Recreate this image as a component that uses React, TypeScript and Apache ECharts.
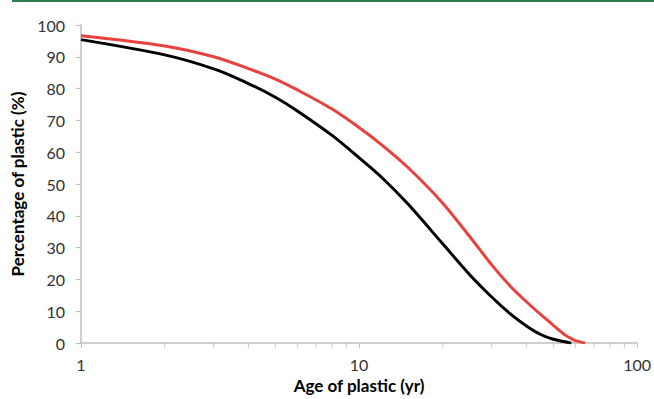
import React, { useEffect, useRef } from "react";
import * as echarts from "echarts";

const ages = [1, 2, 3, 4, 5, 6, 8, 10, 12, 15, 20, 25, 30, 35, 40, 45, 50, 55, 58, 60, 65];
const blackValues = [95.4, 90.6, 86.2, 81.6, 77.3, 73.0, 65.3, 58.3, 52.3, 43.7, 31.2, 21.5, 14.5, 9.2, 5.4, 2.7, 1.2, 0.4, 0.0, null, null];
const redValues = [96.6, 93.4, 90.0, 86.3, 83.0, 79.6, 73.6, 67.8, 62.5, 55.2, 44.0, 33.5, 24.6, 17.9, 13.0, 9.0, 5.6, 2.6, 1.4, 0.8, 0.0];
const minorTickValues = [2, 3, 4, 5, 6, 7, 8, 9, 20, 30, 40, 50, 60, 70, 80, 90];

const FONT = "Lato";

export default function App() {
  const ref = useRef<HTMLDivElement>(null);
  useEffect(() => {
    if (!ref.current) return;
    const chart = echarts.init(ref.current, undefined, { renderer: "svg" });
    const pairs = (vals: (number | null)[]) =>
      ages.map((a, i) => [a, vals[i]]).filter((p) => p[1] !== null);
    chart.setOption({
      animation: false,
      backgroundColor: "#ffffff",
      grid: { left: 81, right: 15, top: 25, bottom: 54, containLabel: false },
      graphic: [
        { type: "rect", shape: { x: 12, y: 0, width: 642, height: 2 }, style: { fill: "#2e7b50" } },
      ],
      xAxis: {
        type: "log",
        logBase: 10,
        min: 1,
        max: 100,
        name: "Age of plastic (yr)",
        nameLocation: "middle",
        nameGap: 31,
        nameTextStyle: { fontFamily: FONT, fontSize: 17, fontWeight: "bold", color: "#000" },
        axisLine: { lineStyle: { color: "#bfbfbf", width: 1.5 } },
        axisTick: { show: true, length: 5, lineStyle: { color: "#bfbfbf", width: 1 } },
        minorTick: { show: false },
        splitLine: { show: false },
        axisLabel: { fontFamily: FONT, fontSize: 16, color: "#333333", margin: 13 },
      },
      yAxis: {
        type: "value",
        min: 0,
        max: 100,
        interval: 10,
        name: "Percentage of plastic (%)",
        nameLocation: "middle",
        nameGap: 52,
        nameTextStyle: { fontFamily: FONT, fontSize: 17, fontWeight: "bold", color: "#000" },
        axisLine: { show: true, lineStyle: { color: "#bfbfbf", width: 1.5 } },
        axisTick: { show: true, length: 5, lineStyle: { color: "#bfbfbf", width: 1 } },
        splitLine: { show: false },
        axisLabel: { fontFamily: FONT, fontSize: 16, color: "#333333", margin: 16 },
      },
      series: [
        {
          type: "scatter",
          data: minorTickValues.map((v) => [v, 0]),
          symbol: "rect",
          symbolSize: [1, 5],
          symbolOffset: [0, 2.5],
          itemStyle: { color: "#bfbfbf" },
          clip: false,
          silent: true,
          z: 1,
        },
        {
          type: "line",
          data: pairs(redValues),
          showSymbol: false,
          smooth: 0.3,
          lineStyle: { color: "#e8423f", width: 3 },
          z: 3,
        },
        {
          type: "line",
          data: pairs(blackValues),
          showSymbol: false,
          smooth: 0.3,
          lineStyle: { color: "#000000", width: 3 },
          z: 4,
        },
      ],
    });
    return () => chart.dispose();
  }, []);
  return (
    <div
      ref={ref}
      style={{ position: "fixed", left: 0, top: 0, width: 654, height: 399 }}
    />
  );
}
